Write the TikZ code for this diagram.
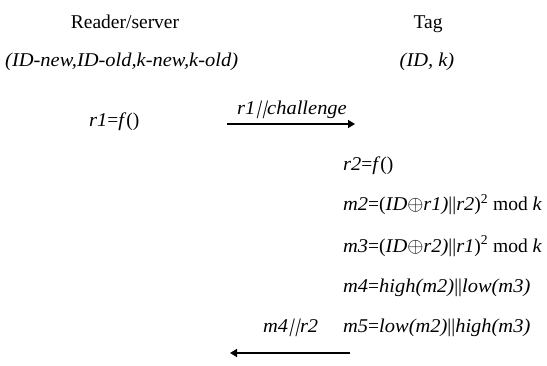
\documentclass[tikz,border=0pt]{standalone}
\usepackage{fontspec}
\setmainfont{Liberation Serif}[ItalicFeatures={FakeStretch=1.05}]
\newfontfamily\slantbar{Liberation Serif}[FakeSlant=0.25]
\newcommand{\sbar}{{\slantbar\kern1pt|\kern2pt|\kern1pt}}
\usetikzlibrary{arrows.meta}
\begin{document}
\begin{tikzpicture}[x=1pt,y=1pt,
  txt/.style={inner sep=0pt, font=\fontsize{19.5}{23}\selectfont},
  msg/.style={line width=1.5pt, -{Stealth[length=7pt,width=8pt,inset=0pt]}}]
\useasboundingbox (0,0) rectangle (547,365);
\node[txt, anchor=base] (reader) at (125,336) {Reader/server};
\node[txt, anchor=base] (tag) at (428,336) {Tag};
\node[txt, anchor=base west] (rstate) at (5,298) {\textit{(ID-new,ID-old,k-new,k-old)}};
\node[txt, anchor=base] (tstate) at (427,298) {\textit{(ID, k)}};
\node[txt, anchor=base west] (r1) at (89,238) {\textit{r1}=\textit{f}()};
\node[txt, anchor=base west] (l1) at (237,251) {\textit{r1}\sbar\textit{challenge}};
\node[txt, anchor=base west] (r2) at (343,195) {\textit{r2}=\textit{f}()};
\node[txt, anchor=base west] (m2) at (343,154) {\textit{m2}=(\textit{ID}$\oplus$\textit{r1)}||\textit{r2})\textsuperscript{2} mod \textit{k}};
\node[txt, anchor=base west] (m3) at (343,113) {\textit{m3}=(\textit{ID}$\oplus$\textit{r2)}||\textit{r1})\textsuperscript{2} mod \textit{k}};
\node[txt, anchor=base west] (m4) at (343,73) {\textit{m4}=\textit{high(m2)}||\textit{low(m3)}};
\node[txt, anchor=base west] (m5) at (343,33) {\textit{m5}=\textit{low(m2)}||\textit{high(m3)}};
\node[txt, anchor=base west] (l2) at (263,33) {\textit{m4}\sbar\textit{r2}};
\coordinate (a1s) at (227,241);
\coordinate (a1e) at (355,241);
\coordinate (a2s) at (350,12);
\coordinate (a2e) at (230,12);
\draw[msg] (a1s) -- (a1e);
\draw[msg] (a2s) -- (a2e);
\end{tikzpicture}
\end{document}
